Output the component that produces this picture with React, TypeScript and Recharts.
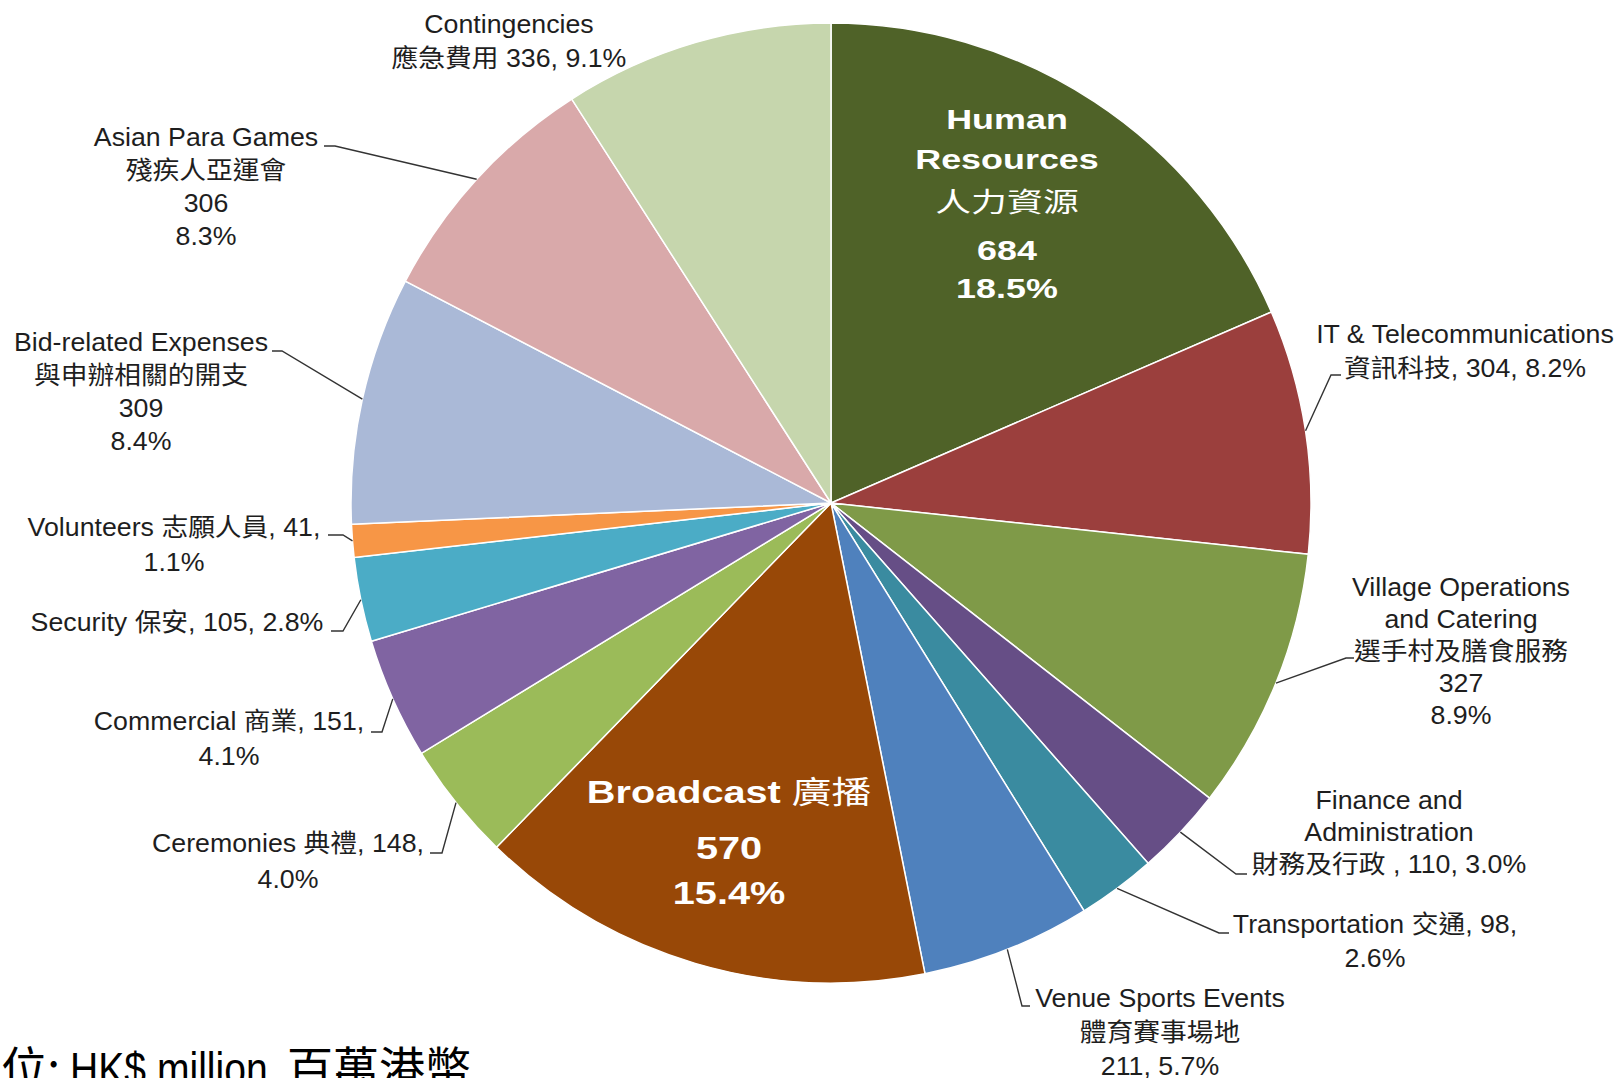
import { PieChart, Pie, Cell } from "recharts"

// slices, clockwise from 12 o'clock
const categories = [
  "Human Resources",
  "IT & Telecommunications",
  "Village Operations and Catering",
  "Finance and Administration",
  "Transportation",
  "Venue Sports Events",
  "Broadcast",
  "Ceremonies",
  "Commercial",
  "Security",
  "Volunteers",
  "Bid-related Expenses",
  "Asian Para Games",
  "Contingencies",
]
const categoriesZh = [
  "人力資源",
  "資訊科技",
  "選手村及膳食服務",
  "財務及行政",
  "交通",
  "體育賽事場地",
  "廣播",
  "典禮",
  "商業",
  "保安",
  "志願人員",
  "與申辦相關的開支",
  "殘疾人亞運會",
  "應急費用",
]
const values = [684, 304, 327, 110, 98, 211, 570, 148, 151, 105, 41, 309, 306, 336]
const shares = ["18.5", "8.2", "8.9", "3.0", "2.6", "5.7", "15.4", "4.0", "4.1", "2.8", "1.1", "8.4", "8.3", "9.1"]
const colors = [
  "#4F6228", "#9B3F3D", "#7F9A48", "#664E86", "#3A8BA0", "#4F81BD", "#984807",
  "#9BBB59", "#8064A2", "#4BACC6", "#F79646", "#AAB9D7", "#D9A9AA", "#C6D6AD",
]
const unitNote = ["單位:", "HK$ million", "百萬港幣"]

const pct = (i: number) => `${shares[i]}%`

const labelLines: string[][] = [
  ["Human", "Resources", categoriesZh[0], `${values[0]}`, pct(0)],
  [categories[1], `${categoriesZh[1]}, ${values[1]}, ${pct(1)}`],
  ["Village Operations", "and Catering", categoriesZh[2], `${values[2]}`, pct(2)],
  ["Finance and", "Administration", `${categoriesZh[3]} , ${values[3]}, ${pct(3)}`],
  [`${categories[4]} ${categoriesZh[4]}, ${values[4]},`, pct(4)],
  [categories[5], categoriesZh[5], `${values[5]}, ${pct(5)}`],
  [`${categories[6]} ${categoriesZh[6]}`, `${values[6]}`, pct(6)],
  [`${categories[7]} ${categoriesZh[7]}, ${values[7]},`, pct(7)],
  [`${categories[8]} ${categoriesZh[8]}, ${values[8]},`, pct(8)],
  [`${categories[9]} ${categoriesZh[9]}, ${values[9]}, ${pct(9)}`],
  [`${categories[10]} ${categoriesZh[10]}, ${values[10]},`, pct(10)],
  [categories[11], categoriesZh[11], `${values[11]}`, pct(11)],
  [categories[12], categoriesZh[12], `${values[12]}`, pct(12)],
  [categories[13], `${categoriesZh[13]}  ${values[13]}, ${pct(13)}`],
]

// label placement relative to the pie centre
type Spec = { dx: number; ys: number[]; inside?: boolean; size?: number; sx?: number; elbow?: [number, number]; end?: [number, number] }
const step = (y0: number, n: number, lh: number) => Array.from({ length: n }, (_, k) => y0 + k * lh)

const layout: Spec[] = [
  { dx: 176, ys: [-383, -343, -300.5, -252, -214.5], inside: true, size: 27, sx: 1.33 },
  { dx: 634, ys: step(-169, 2, 34), elbow: [500, -128], end: [510, -128] },
  { dx: 630, ys: step(84, 5, 32), elbow: [515, 155], end: [523, 155] },
  { dx: 558, ys: step(297, 3, 32), elbow: [405, 371], end: [416, 371] },
  { dx: 544, ys: step(421, 2, 34), elbow: [388, 430], end: [398, 430] },
  { dx: 329, ys: step(495, 3, 34), elbow: [191, 503], end: [199, 503] },
  { dx: -102, ys: [290, 346, 391], inside: true, size: 31, sx: 1.28 },
  { dx: -543, ys: step(340, 2, 36), elbow: [-389, 350], end: [-401, 350] },
  { dx: -602, ys: step(218, 2, 35), elbow: [-449, 229], end: [-460, 229] },
  { dx: -654, ys: [119], elbow: [-488, 128], end: [-500, 128] },
  { dx: -657, ys: step(24, 2, 35), elbow: [-488, 32], end: [-503, 32] },
  { dx: -690, ys: step(-161, 4, 33), elbow: [-549, -152], end: [-559, -152] },
  { dx: -625, ys: step(-366, 4, 33), elbow: [-496, -357], end: [-507, -357] },
  { dx: -322, ys: step(-479, 2, 34) },
]

const data = categories.map((name, i) => ({ name, value: values[i] }))

const RAD = Math.PI / 180
const FONT = "'Liberation Sans', Arial, 'Noto Sans CJK TC', sans-serif"
const isCjk = (s: string) => /[\u3000-\u9fff\uff00-\uffef]/.test(s)

function renderLabel(props: any) {
  const { cx, cy, midAngle, outerRadius, index } = props
  const spec = layout[index]
  const lines = labelLines[index]
  const ex = cx + outerRadius * Math.cos(-midAngle * RAD)
  const ey = cy + outerRadius * Math.sin(-midAngle * RAD)
  const size = spec.size ?? 25
  const sx = spec.sx ?? 1.07
  return (
    <g key={`lbl-${index}`}>
      {spec.elbow && spec.end && (
        <polyline
          points={`${ex},${ey} ${cx + spec.elbow[0]},${cy + spec.elbow[1]} ${cx + spec.end[0]},${cy + spec.end[1]}`}
          fill="none"
          stroke="#333"
          strokeWidth={1.4}
        />
      )}
      {lines.map((line, k) => (
        <text
          key={k}
          transform={`translate(${cx + spec.dx},${cy + spec.ys[k]}) scale(${sx},1)`}
          textAnchor="middle"
          dominantBaseline="central"
          fontFamily={FONT}
          fontSize={size}
          fill={spec.inside ? "#fff" : "#1e1e1e"}
        >
          {line.split(/([\u3000-\u9fff\uff00-\uffef]+)/).filter(Boolean).map((part, j) => (
            <tspan key={j} fontWeight={spec.inside && !isCjk(part) ? 700 : 400}>
              {part}
            </tspan>
          ))}
        </text>
      ))}
    </g>
  )
}

export default function App() {
  return (
    <div style={{ position: "absolute", left: 0, top: 0, width: 1621, height: 1078, background: "#fff", overflow: "hidden" }}>
      <PieChart width={1621} height={1078} margin={{ top: 0, right: 0, bottom: 0, left: 0 }}>
        <Pie
          data={data}
          dataKey="value"
          cx={831}
          cy={503}
          outerRadius={480}
          startAngle={90}
          endAngle={-270}
          stroke="#fff"
          strokeWidth={1.5}
          label={renderLabel}
          labelLine={false}
          isAnimationActive={false}
        >
          {data.map((d, i) => (
            <Cell key={d.name} fill={colors[i]} />
          ))}
        </Pie>
      </PieChart>
      <svg width={1621} height={1078} style={{ position: "absolute", left: 0, top: 0, pointerEvents: "none" }}>
        <text x={60} y={1085} textAnchor="end" fontFamily="'Noto Sans CJK TC', sans-serif" fontSize={46} fill="#000">
          {unitNote[0]}
        </text>
        <text
          transform="translate(70,1085) scale(0.85,1)"
          fontFamily="'Liberation Sans', sans-serif"
          fontSize={46}
          fill="#000"
        >
          {unitNote[1]}
        </text>
        <text x={287} y={1085} fontFamily="'Noto Sans CJK TC', sans-serif" fontSize={46} fill="#000">
          {unitNote[2]}
        </text>
      </svg>
    </div>
  )
}
